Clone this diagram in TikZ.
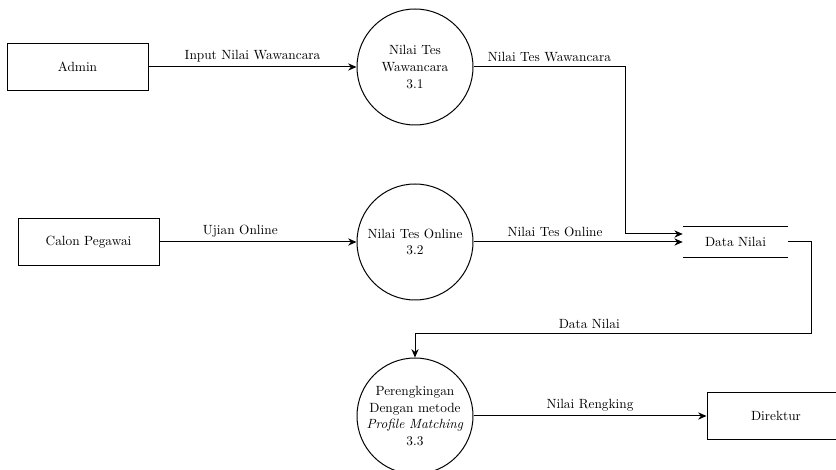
\documentclass[tikz,border=0pt]{standalone}
\usepackage{tikz}
\usetikzlibrary{calc,positioning,arrows.meta}

\begin{document}
\begin{tikzpicture}[
    x=0.75pt, y=-0.75pt,
    font=\fontsize{10}{12.6}\selectfont,
    entity/.style={rectangle, draw=black, line width=0.75pt, align=center, minimum width=105.75pt, minimum height=35.5pt, fill=white},
    process/.style={circle, draw=black, line width=0.75pt, align=center, minimum size=87pt, inner sep=0pt, fill=white},
    store/.style={rectangle, align=center, minimum width=78.75pt, minimum height=22.5pt},
    flow/.style={-{Stealth[length=2.2mm,width=1.9mm]}, line width=0.75pt},
    line/.style={line width=0.75pt}
]
    \useasboundingbox (0,0) rectangle (836,470);

    % --- EXTERNAL ENTITIES ---
    \node[entity] (Admin) at (77.5, 67) {Admin};
    \node[entity] (CalonPegawai) at (88.5, 242) {Calon Pegawai};
    \node[entity, minimum width=103.5pt] (Direktur) at (776, 416) {Direktur};

    % --- PROCESSES ---
    \node[process] (NilaiWawancara) at (415, 67) {Nilai Tes\\Wawancara\\3.1};
    \node[process] (NilaiOnline) at (415, 242) {Nilai Tes Online\\3.2};
    \node[process] (Perengkingan) at (415, 416) {Perengkingan\\Dengan metode\\\textit{Profile Matching}\\3.3};

    % --- DATA STORE ---
    \node[store] (DataNilai) at (735.5, 242) {Data Nilai};
    \draw[line] (DataNilai.north west) -- (DataNilai.north east);
    \draw[line] (DataNilai.south west) -- (DataNilai.south east);

    % ================= DATA FLOWS =================
    \draw[flow] (Admin) -- node[above] {Input Nilai Wawancara} (NilaiWawancara);
    \draw[flow] (CalonPegawai) -- node[above, pos=0.41] {Ujian Online} (NilaiOnline);

    \coordinate (StoreIn) at ([yshift=6pt]DataNilai.west);
    \draw[flow] (NilaiWawancara.east) -- node[above] {Nilai Tes Wawancara} ++(114pt,0) |- (StoreIn);
    \draw[flow] (NilaiOnline) -- node[above, pos=0.39] {Nilai Tes Online} (DataNilai.west);

    \coordinate (StoreOut) at (811, 334);
    \draw[line] (DataNilai.east) -| (StoreOut);
    \draw[flow] (StoreOut) -| node[pos=0.28, above] {Data Nilai} (Perengkingan.north);

    \draw[flow] (Perengkingan) -- node[above] {Nilai Rengking} (Direktur);

\end{tikzpicture}
\end{document}
